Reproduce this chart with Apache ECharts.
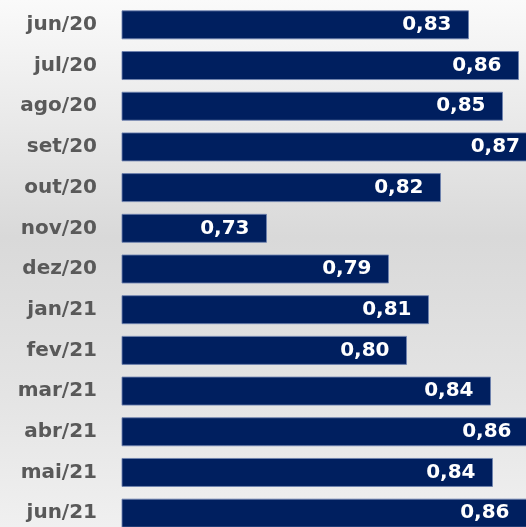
<!DOCTYPE html>
<html>
<head>
<meta charset="utf-8">
<script src="https://cdn.jsdelivr.net/npm/echarts@6/dist/echarts.min.js"></script>
<style>
  html, body { margin: 0; padding: 0; }
  #chart { width: 526px; height: 527px; }
</style>
</head>
<body>
<div id="chart"></div>
<script>
// months, top to bottom
const months = ['jun/20', 'jul/20', 'ago/20', 'set/20', 'out/20', 'nov/20', 'dez/20',
  'jan/21', 'fev/21', 'mar/21', 'abr/21', 'mai/21', 'jun/21']
// index values (labels show 2 decimals)
const values = [0.831, 0.856, 0.848, 0.870, 0.817, 0.730, 0.791,
  0.811, 0.800, 0.842, 0.861, 0.843, 0.860]

const fmt = v => (Math.round(v * 100) / 100).toFixed(2).replace('.', ',')

const chart = echarts.init(document.getElementById('chart'))

chart.setOption({
  animation: false,
  backgroundColor: {
    type: 'linear', x: 0, y: 0, x2: 0, y2: 1,
    colorStops: [
      { offset: 0, color: '#fafafa' },
      { offset: 0.45, color: '#d9d9d9' },
      { offset: 0.75, color: '#e4e4e4' },
      { offset: 1, color: '#f0f0f0' },
    ],
  },
  // the original picture is cropped on the right and bottom, so the grid runs past the canvas
  grid: { left: 122, top: 4.5, width: 415, height: 529, containLabel: false, outerBoundsMode: 'none' },
  xAxis: {
    type: 'value',
    min: 0.6575,
    max: 0.865,
    show: false,
  },
  yAxis: {
    type: 'category',
    data: months,
    inverse: true,
    axisLine: { show: false },
    axisTick: { show: false },
    axisLabel: {
      margin: 25,
      color: '#595959',
      fontFamily: 'DejaVu Sans',
      fontWeight: 'bold',
      fontSize: 20,
    },
  },
  series: [
    {
      type: 'bar',
      data: values,
      barCategoryGap: '28.7%',
      clip: true,
      itemStyle: {
        color: '#001f5f',
        borderColor: 'rgba(110,130,175,0.85)',
        borderWidth: 1,
      },
      label: {
        show: true,
        position: 'insideRight',
        distance: 17.5,
        color: '#ffffff',
        fontFamily: 'DejaVu Sans',
        fontWeight: 'bold',
        fontSize: 20,
        formatter: p => fmt(p.value),
      },
    },
  ],
})
</script>
</body>
</html>
